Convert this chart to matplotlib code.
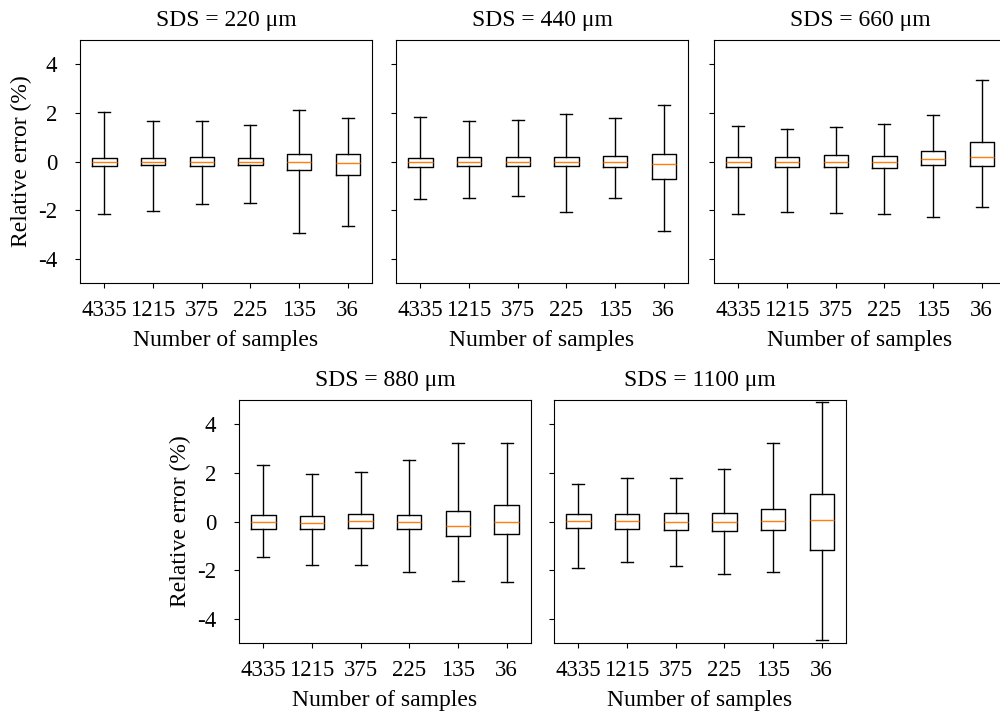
import matplotlib
matplotlib.use("Agg")
import matplotlib.pyplot as plt

plt.rcParams['font.family'] = ['Liberation Serif', 'DejaVu Serif']
plt.rcParams['font.size'] = 17
plt.rcParams['axes.unicode_minus'] = False

samples = ['4335', '1215', '375', '225', '135', '36']
sds = ['220', '440', '660', '880', '1100']

# box statistics per panel (relative error, %)
whishi = [
    [2.05, 1.68, 1.68, 1.49, 2.12, 1.78],
    [1.84, 1.66, 1.71, 1.97, 1.77, 2.34],
    [1.47, 1.32, 1.44, 1.56, 1.93, 3.37],
    [2.32, 1.97, 2.03, 2.52, 3.21, 3.21],
    [1.55, 1.81, 1.77, 2.18, 3.25, 4.92],
]
q3 = [
    [0.16, 0.16, 0.19, 0.15, 0.32, 0.32],
    [0.16, 0.19, 0.19, 0.18, 0.23, 0.30],
    [0.19, 0.18, 0.25, 0.22, 0.44, 0.79],
    [0.26, 0.21, 0.30, 0.26, 0.45, 0.68],
    [0.30, 0.30, 0.36, 0.37, 0.53, 1.14],
]
med = [
    [-0.01, 0.00, 0.00, -0.01, -0.04, -0.05],
    [-0.04, -0.01, -0.03, 0.00, -0.01, -0.11],
    [-0.03, -0.04, -0.01, -0.03, 0.10, 0.18],
    [-0.03, -0.05, 0.03, -0.01, -0.18, -0.04],
    [0.01, 0.01, -0.01, -0.01, 0.03, 0.05],
]
q1 = [
    [-0.18, -0.14, -0.18, -0.16, -0.33, -0.55],
    [-0.22, -0.19, -0.19, -0.19, -0.22, -0.73],
    [-0.22, -0.23, -0.21, -0.25, -0.15, -0.19],
    [-0.29, -0.30, -0.25, -0.32, -0.59, -0.52],
    [-0.27, -0.30, -0.33, -0.38, -0.36, -1.19],
]
whislo = [
    [-2.14, -2.03, -1.73, -1.71, -2.96, -2.67],
    [-1.53, -1.51, -1.40, -2.08, -1.51, -2.88],
    [-2.14, -2.07, -2.11, -2.15, -2.27, -1.88],
    [-1.48, -1.79, -1.78, -2.07, -2.44, -2.47],
    [-1.93, -1.68, -1.82, -2.15, -2.07, -4.89],
]

fig = plt.figure(figsize=(10, 7.11), dpi=100)
W, H = 1000, 711
# axes rectangles in pixels: left, top, width, height
boxes_px = [(80, 40, 292, 243), (396, 40, 292, 243), (714, 40, 292, 243),
            (239, 400, 292, 243), (554, 400, 292, 243)]

for i, (l, t, w, h) in enumerate(boxes_px):
    ax = fig.add_axes([l / W, 1 - (t + h) / H, w / W, h / H])
    stats = []
    for j in range(len(samples)):
        stats.append({'whislo': whislo[i][j], 'q1': q1[i][j], 'med': med[i][j],
                      'q3': q3[i][j], 'whishi': whishi[i][j], 'fliers': []})
    ax.bxp(stats, showfliers=False,
           boxprops=dict(color='black', linewidth=1),
           whiskerprops=dict(color='black', linewidth=1),
           capprops=dict(color='black', linewidth=1),
           medianprops=dict(color='#ff7f0e', linewidth=1))
    ax.set_ylim(-5, 5)
    ax.set_yticks([-4, -2, 0, 2, 4])
    ax.set_xticks(range(1, 7))
    ax.set_xticklabels(samples)
    ax.tick_params(axis='x', labelsize=16.5, pad=9)
    ax.tick_params(axis='y', labelsize=16.5, pad=13)
    ax.set_title('SDS = ' + sds[i] + ' μm', fontsize=17, pad=10)
    ax.set_xlabel('Number of samples', labelpad=6.5)
    if i in (0, 3):
        ax.set_ylabel('Relative error (%)')
    else:
        ax.set_yticklabels([])

fig.savefig('out.png', dpi=100)
